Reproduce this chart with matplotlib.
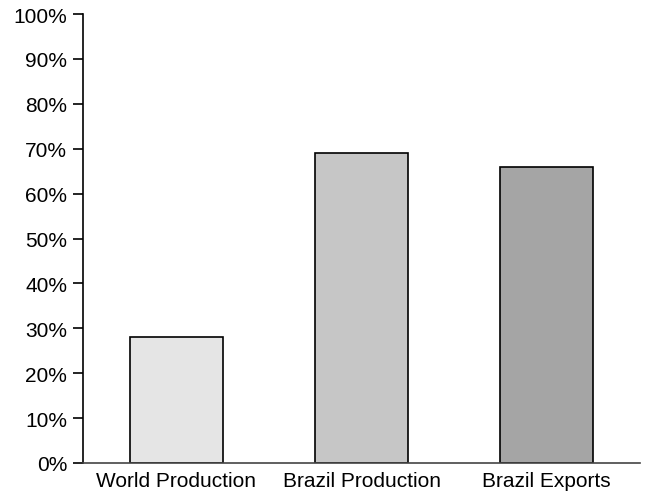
import numpy as np
import matplotlib.pyplot as plt
from matplotlib.ticker import PercentFormatter

# data
categories = ['World Production', 'Brazil Production', 'Brazil Exports']
shares = [28, 69, 66]
bar_colors = ['#e5e5e5', '#c6c6c6', '#a5a5a5']

plt.rcParams['font.family'] = ['Liberation Sans', 'DejaVu Sans']

fig = plt.figure(figsize=(6.47, 5.02), dpi=100)
ax = fig.add_axes([0.1283, 0.0757, 0.861, 0.8944])

x = np.arange(len(categories))
ax.bar(x, shares, width=0.5, color=bar_colors, edgecolor='black', linewidth=1.2)

ax.set_xlim(-0.505, 2.505)
ax.set_ylim(0, 100)
ax.set_yticks(np.arange(0, 101, 10))
ax.yaxis.set_major_formatter(PercentFormatter(decimals=0))
ax.set_xticks(x)
ax.set_xticklabels(categories)

ax.spines['top'].set_visible(False)
ax.spines['right'].set_visible(False)
ax.spines['left'].set_linewidth(1.2)
ax.spines['bottom'].set_linewidth(1.2)
ax.spines['bottom'].set_color('#444444')
ax.tick_params(axis='y', length=7.5, width=1.2, labelsize=15, pad=4)
ax.tick_params(axis='x', length=0, labelsize=15, pad=6)

fig.savefig('out.png', dpi=100)
